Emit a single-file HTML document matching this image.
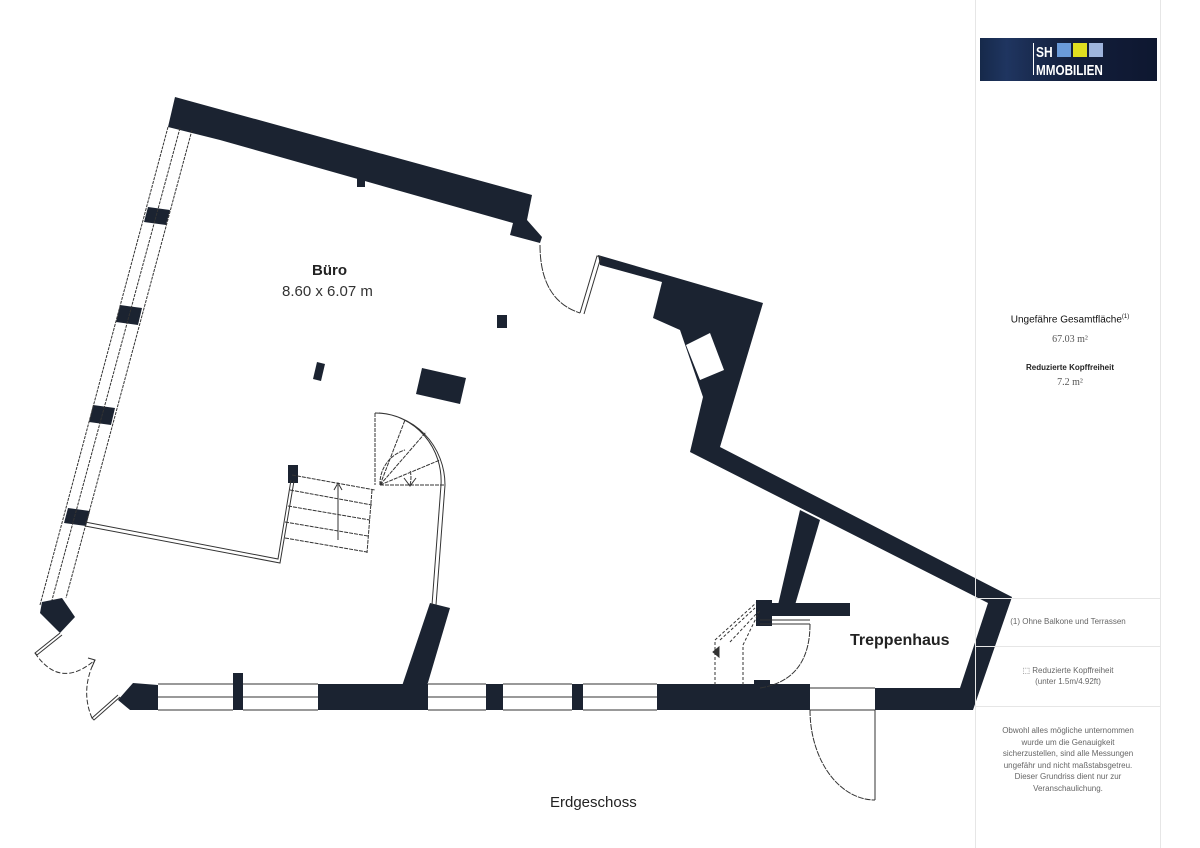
<!DOCTYPE html>
<html><head><meta charset="utf-8"><style>
html,body{margin:0;padding:0;background:#fff;}
body{width:1200px;height:848px;position:relative;overflow:hidden;font-family:"Liberation Sans",sans-serif;}
.t{position:absolute;white-space:nowrap;}
</style></head><body>
<svg width="1200" height="848" style="position:absolute;left:0;top:0">
<defs>
<linearGradient id="lg" x1="0" x2="1" y1="0" y2="0">
<stop offset="0" stop-color="#16294a"/><stop offset="0.15" stop-color="#1f3560"/><stop offset="0.5" stop-color="#131f3c"/><stop offset="1" stop-color="#0e1730"/>
</linearGradient>
</defs>
<g fill="#1b2331">
<polygon points="175,97 532,195 527,220 542,237 540,243 510,235 513,223 220,140 168,127"/>
<rect x="357" y="175" width="8" height="12"/>
<polygon points="598,255 763,303 720,447 1012,597 973,710 960,688 988,603 690,452 703,397 680,330 653,318 662,282 600,265"/>
<polygon points="686,345 710,333 724,370 700,380" fill="#fff"/>
<polygon points="800,510 820,520 795,605 778,605"/>
<rect x="756" y="603" width="94" height="13"/>
<rect x="756" y="600" width="16" height="26"/>
<rect x="754" y="680" width="16" height="8"/>
<polygon points="118,700 133,683 158,685 158,710 130,710"/>
<rect x="233" y="673" width="10" height="37"/>
<rect x="318" y="684" width="110" height="26"/>
<rect x="486" y="684" width="17" height="26"/>
<rect x="572" y="684" width="11" height="26"/>
<rect x="657" y="684" width="153" height="26"/>
<rect x="875" y="688" width="98" height="22"/>
<polygon points="430,603 450,608 427,686 402,686"/>
<polygon points="42,602 62,598 75,617 60,633 40,613"/>
<polygon points="148,207 170,210 166,225 144,222"/>
<polygon points="120,305 142,308 138,325 116,322"/>
<polygon points="93,405 115,408 111,425 89,422"/>
<polygon points="68,508 90,511 86,526 64,523"/>
<rect x="497" y="315" width="10" height="13"/>
<polygon points="317,362 325,364 321,381 313,379"/>
<polygon points="422,368 466,378 460,404 416,394"/>
<rect x="288" y="465" width="10" height="18"/>
</g>
<g fill="none" stroke="#333" stroke-width="1">
<line x1="168" y1="127" x2="40" y2="605" stroke-dasharray="3,1"/>
<line x1="180" y1="128" x2="52" y2="600" stroke-dasharray="3,1"/>
<line x1="192" y1="130" x2="66" y2="598" stroke-dasharray="3,1"/>
<path d="M158,684H233M158,697H233M158,710H233M243,684H318M243,697H318M243,710H318M428,684H486M428,697H486M428,710H486M503,684H572M503,697H572M503,710H572M583,684H657M583,697H657M583,710H657"/>
<path d="M810,688H875M810,710H875M875,710V800"/>
<path d="M810,710A65,90 0 0 0 875,800" stroke-dasharray="6,1"/>
<path d="M60,633L35,653L37,655L62,635"/>
<path d="M35,653Q60,690 95,660" stroke-dasharray="5,2"/>
<path d="M118,695L92,718L94,720L120,697"/>
<path d="M92,718Q80,690 95,660" stroke-dasharray="5,2"/>
<path d="M88,658L95,660L92,667"/>
<path d="M540,245Q540,300 580,313" stroke-dasharray="8,1"/>
<path d="M580,313L597,256L601,257L584,314"/>
<path d="M85,522L278,559L291,480M85,526L280,563L294,481"/>
<path d="M292,475L375,490M290,490L372,505M288,506L370,520M285,522L368,536M285,538L367,552M372,490L367,553" stroke-dasharray="4,1"/>
<path d="M338,540V485M334,490L338,483L342,490"/>
<path d="M375,413A70,72 0 0 1 445,485L436,605M379,413A66,68 0 0 1 441,485L432,605"/>
<path d="M375,413V485M380,485L445,485M380,485L405,420M380,485L426,432M380,485L440,460M380,485A35,35 0 0 1 405,450M410,485A30,30 0 0 0 410,470" stroke-dasharray="4,1"/>
<path d="M404,478L410,486L416,478"/>
<path d="M760,620H810M760,624H810"/>
<path d="M810,624Q810,680 760,688" stroke-dasharray="6,1"/>
<path d="M715,685V640L756,603M743,685V645L760,610M720,640L755,608M730,642L758,612" stroke-dasharray="3,2"/>
<polygon points="713,652 719,647 719,657" fill="#333"/>
</g>
<g stroke="#e6e6e6" stroke-width="1">
<line x1="975.5" y1="0" x2="975.5" y2="848"/>
<line x1="1160.5" y1="0" x2="1160.5" y2="848"/>
<line x1="976" y1="598.5" x2="1160" y2="598.5"/>
<line x1="976" y1="646.5" x2="1160" y2="646.5"/>
<line x1="976" y1="706.5" x2="1160" y2="706.5"/>
</g>
<rect x="980" y="38" width="177" height="43" fill="url(#lg)"/>
<rect x="1033" y="43" width="1" height="32" fill="#fff"/>
<rect x="1057" y="43" width="14" height="14" fill="#6a9ad8"/>
<rect x="1073" y="43" width="14" height="14" fill="#e0de20"/>
<rect x="1089" y="43" width="14" height="14" fill="#9eb4dc"/>
<text transform="translate(1036,57) scale(0.8,1)" fill="#fff" font-family="Liberation Sans, sans-serif" font-weight="bold" font-size="15">SH</text>
<text transform="translate(1036,75) scale(0.78,1)" fill="#fff" font-family="Liberation Sans, sans-serif" font-weight="bold" font-size="15">MMOBILIEN</text>
</svg>
<div class="t" style="left:312px;top:262px;font-size:15px;font-weight:bold;color:#222">Büro</div>
<div class="t" style="left:282px;top:283px;font-size:15px;color:#333">8.60 x 6.07 m</div>
<div class="t" style="left:850px;top:632px;font-size:16px;font-weight:bold;color:#222">Treppenhaus</div>
<div class="t" style="left:550px;top:794px;font-size:15px;color:#222">Erdgeschoss</div>
<div class="t" style="left:985px;top:314px;font-size:10px;color:#111;width:170px;text-align:center">Ungefähre Gesamtfläche<sup style="font-size:6px">(1)</sup></div>
<div class="t" style="left:985px;top:334px;font-size:10px;color:#555;width:170px;text-align:center;font-family:'Liberation Serif',serif">67.03 m²</div>
<div class="t" style="left:985px;top:363px;font-size:8px;font-weight:bold;color:#222;width:170px;text-align:center">Reduzierte Kopffreiheit</div>
<div class="t" style="left:985px;top:377px;font-size:10px;color:#555;width:170px;text-align:center;font-family:'Liberation Serif',serif">7.2 m²</div>
<div class="t" style="left:978px;top:617px;font-size:8px;color:#666;width:180px;text-align:center">(1) Ohne Balkone und Terrassen</div>
<div class="t" style="left:978px;top:665px;font-size:8px;color:#666;width:180px;text-align:center;line-height:11px">⬚ Reduzierte Kopffreiheit<br>(unter 1.5m/4.92ft)</div>
<div class="t" style="left:978px;top:725px;font-size:8px;color:#666;width:180px;text-align:center;line-height:11.5px">Obwohl alles mögliche unternommen<br>wurde um die Genauigkeit<br>sicherzustellen, sind alle Messungen<br>ungefähr und nicht maßstabsgetreu.<br>Dieser Grundriss dient nur zur<br>Veranschaulichung.</div>
</body></html>
